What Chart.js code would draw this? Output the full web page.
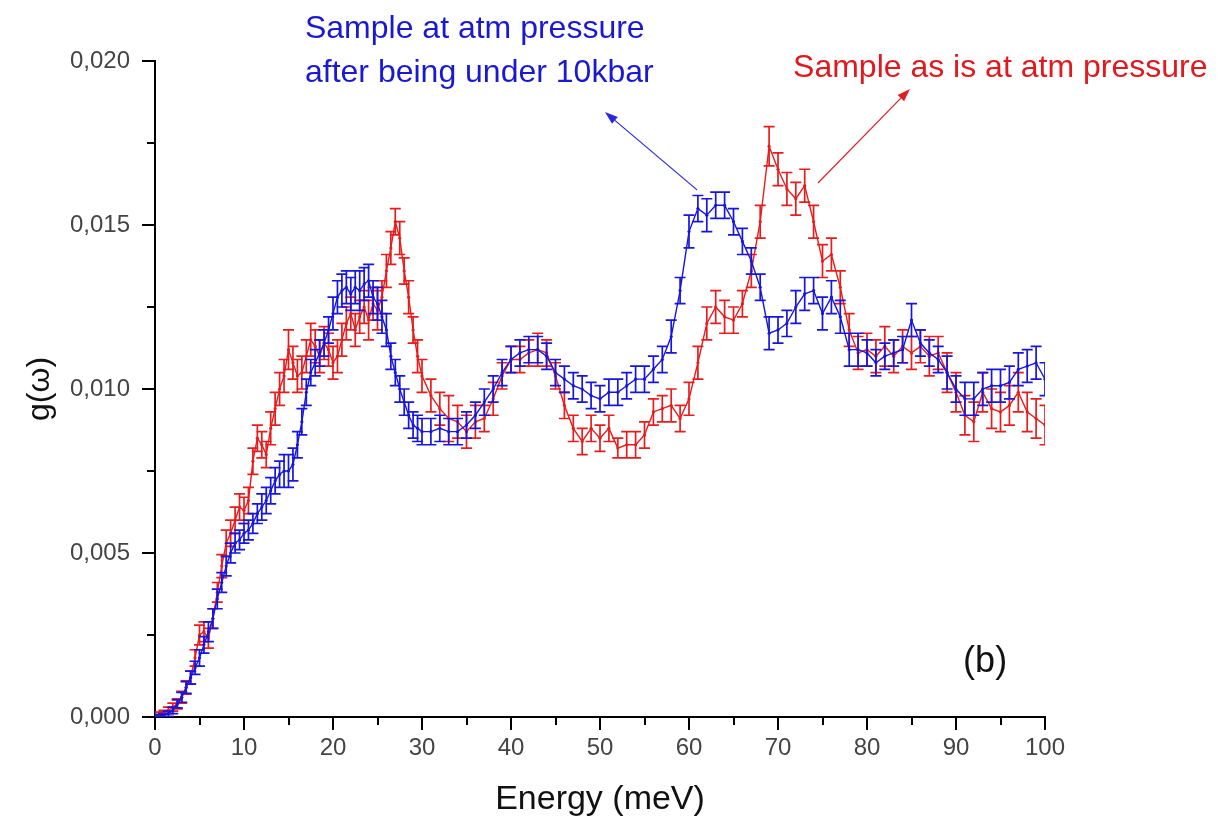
<!DOCTYPE html>
<html>
<head>
<meta charset="utf-8">
<script src="https://cdn.jsdelivr.net/npm/chart.js@4/dist/chart.umd.min.js"></script>
<style>
  html, body { margin: 0; padding: 0; background: #ffffff; }
  #wrap { width: 1223px; height: 817px; position: relative; }
</style>
</head>
<body>
<div id="wrap"><canvas id="c" width="1223" height="817"></canvas></div>
<script>
// ---------------- DATA ----------------
const energy = [
  0,0.5,1,1.5,2,2.5,3,3.5,4,4.5,
  5,5.5,6,6.5,7,7.5,8,8.5,9,9.5,
  10,10.5,11,11.5,12,12.5,13,13.5,14,14.5,
  15,15.5,16,16.5,17,17.5,18,18.5,19,19.5,
  20,20.5,21,21.5,22,22.5,23,23.5,24,24.5,
  25,25.5,26,26.5,27,27.5,28,28.5,29,29.5,
  30,
  31,32,33,34,35,36,37,38,39,40,
  41,42,43,44,45,46,47,48,49,50,
  51,52,53,54,55,56,57,58,59,60,
  61,62,63,64,65,66,67,68,69,70,
  71,72,73,74,75,76,77,78,79,80,
  81,82,83,84,85,86,87,88,89,90,
  91,92,93,94,95,96,97,98,99,100
];

// Red: "Sample as is at atm pressure"
const redG = [
  0.00005,0.00005,0.0001,0.0002,0.0003,0.0004,0.0006,0.0009,0.0012,0.0018,
  0.0025,0.0026,0.0024,0.0030,0.0038,0.0046,0.0053,0.0056,0.0060,0.0064,
  0.0063,0.0066,0.0078,0.0085,0.0083,0.0080,0.0088,0.0094,0.0100,0.0104,
  0.0112,0.0108,0.0104,0.0105,0.0110,0.0115,0.0113,0.0110,0.0114,0.0112,
  0.0108,0.0110,0.0115,0.0120,0.0123,0.0118,0.0122,0.0125,0.0121,0.0126,
  0.0124,0.0128,0.0136,0.0143,0.0151,0.0146,0.0136,0.0128,0.0118,0.0110,
  0.0104,
  0.0098,0.0094,0.0091,0.0090,0.0087,0.0090,0.0091,0.0097,0.0104,0.0109,
  0.0109,0.0111,0.0112,0.0111,0.0104,0.0095,0.0088,0.0084,0.0088,0.0085,
  0.0088,0.0082,0.0083,0.0083,0.0086,0.0093,0.0094,0.0095,0.0091,0.0097,
  0.0108,0.0120,0.0125,0.0122,0.0121,0.0126,0.0136,0.0151,0.0174,0.0167,
  0.0161,0.0158,0.0162,0.0151,0.0139,0.0141,0.0131,0.0118,0.0111,0.0112,
  0.0110,0.0113,0.0110,0.0113,0.0111,0.0113,0.0110,0.0111,0.0105,0.0099,
  0.0092,0.0090,0.0099,0.0094,0.0093,0.0095,0.0099,0.0093,0.0091,0.0089
];
const redErr = [
  0.0001,0.0001,0.0001,0.0001,0.00012,0.00015,0.00018,0.0002,0.0002,0.00025,
  0.0003,0.0003,0.0003,0.0003,0.0003,0.00035,0.0004,0.0004,0.0004,0.0004,
  0.0004,0.0004,0.0004,0.0004,0.0004,0.0004,0.0005,0.0005,0.0005,0.0005,
  0.0006,0.0005,0.0005,0.0005,0.0005,0.0005,0.0005,0.0005,0.0005,0.0005,
  0.0005,0.0005,0.0005,0.0005,0.0005,0.0005,0.0005,0.0005,0.0006,0.0005,
  0.0006,0.0005,0.0005,0.0005,0.0004,0.0005,0.0004,0.0005,0.0004,0.0005,
  0.0005,
  0.0005,0.0005,0.0007,0.0005,0.0005,0.0005,0.0004,0.0005,0.0004,0.0004,
  0.0004,0.0004,0.0005,0.0004,0.0004,0.0004,0.0004,0.0004,0.0004,0.0004,
  0.0004,0.0003,0.0004,0.0004,0.0004,0.0004,0.0004,0.0005,0.0004,0.0005,
  0.0005,0.0005,0.0005,0.0005,0.0004,0.0004,0.0005,0.0005,0.0006,0.0005,
  0.0005,0.0005,0.0005,0.0005,0.0005,0.0005,0.0005,0.0005,0.0005,0.0005,
  0.0005,0.0006,0.0005,0.0005,0.0005,0.0005,0.0006,0.0005,0.0006,0.0006,
  0.0006,0.0006,0.0006,0.0006,0.0006,0.0006,0.0006,0.0006,0.0006,0.0006
];

// Blue: "Sample at atm pressure after being under 10kbar"
const blueG = [
  0.00003,0.00003,0.00005,0.0001,0.0002,0.0004,0.0006,0.0009,0.0012,0.0015,
  0.0018,0.0022,0.0026,0.0030,0.0036,0.0041,0.0046,0.0050,0.0053,0.0054,
  0.0056,0.0057,0.0059,0.0062,0.0064,0.0066,0.0069,0.0072,0.0074,0.0075,
  0.0075,0.0077,0.0083,0.0090,0.0099,0.0105,0.0108,0.0111,0.0114,0.0118,
  0.0123,0.0128,0.0130,0.0131,0.0129,0.0131,0.0130,0.0132,0.0133,0.0128,
  0.0126,0.0122,0.0118,0.0110,0.0105,0.0100,0.0096,0.0092,0.0089,0.0088,
  0.0087,
  0.0087,0.0088,0.0087,0.0087,0.0089,0.0092,0.0096,0.0100,0.0105,0.0109,
  0.0111,0.0112,0.0112,0.0110,0.0105,0.0103,0.0101,0.0100,0.0098,0.0097,
  0.0099,0.0099,0.0101,0.0103,0.0103,0.0106,0.0109,0.0116,0.0130,0.0148,
  0.0155,0.0153,0.0156,0.0156,0.0151,0.0145,0.0139,0.0131,0.0117,0.0118,
  0.0120,0.0125,0.0129,0.0130,0.0123,0.0128,0.0122,0.0112,0.0112,0.0111,
  0.0108,0.0110,0.0111,0.0112,0.0121,0.0114,0.0111,0.0109,0.0105,0.0100,
  0.0097,0.0097,0.0100,0.0101,0.0101,0.0102,0.0106,0.0107,0.0108,0.0103
];
const blueErr = [
  0.00005,0.00005,0.00005,0.00008,0.0001,0.00012,0.00015,0.00018,0.0002,0.0002,
  0.00025,0.00025,0.0003,0.0003,0.0003,0.0003,0.0003,0.0003,0.0003,0.0003,
  0.0003,0.0003,0.0003,0.0003,0.0004,0.0004,0.0004,0.0004,0.0004,0.0005,
  0.0005,0.0005,0.0004,0.0004,0.0004,0.0004,0.0004,0.0004,0.0004,0.0004,
  0.0005,0.0005,0.0005,0.0005,0.0005,0.0005,0.0006,0.0005,0.0005,0.0005,
  0.0005,0.0005,0.0005,0.0004,0.0004,0.0004,0.0004,0.0004,0.0004,0.0004,
  0.0004,
  0.0004,0.0004,0.0004,0.0004,0.0004,0.0004,0.0004,0.0004,0.0004,0.0004,
  0.0004,0.0004,0.0004,0.0004,0.0004,0.0004,0.0004,0.0004,0.0004,0.0004,
  0.0004,0.0004,0.0004,0.0004,0.0004,0.0004,0.0004,0.0005,0.0004,0.0005,
  0.0004,0.0005,0.0004,0.0004,0.0004,0.0004,0.0004,0.0004,0.0005,0.0004,
  0.0004,0.0005,0.0005,0.0004,0.0005,0.0005,0.0005,0.0005,0.0005,0.0004,
  0.0004,0.0004,0.0004,0.0004,0.0005,0.0004,0.0004,0.0004,0.0005,0.0004,
  0.0005,0.0005,0.0005,0.0005,0.0005,0.0005,0.0005,0.0005,0.0005,0.0005
];

const xMinorTicks = [5,15,25,35,45,55,65,75,85,95];
const yMinorTicks = [0.0025,0.0075,0.0125,0.0175];

// ---------------- STYLE ----------------
const RED = 'rgb(232,28,28)';
const BLUE = 'rgb(22,22,222)';
const FONT = '"Liberation Sans", Arial, sans-serif';

const toPoints = (xs, ys) => xs.map((x, i) => ({ x: x, y: ys[i] }));

// Error bar plugin (uses the chart's scales)
const errorBars = {
  id: 'errorBars',
  afterDatasetDraw(chart, args) {
    const ds = chart.data.datasets[args.index];
    const errs = ds.errors;
    if (!errs) return;
    const xs = chart.scales.x, ys = chart.scales.y, ca = chart.chartArea;
    const ctx = chart.ctx;
    ctx.save();
    ctx.beginPath();
    ctx.rect(ca.left, ca.top - 20, ca.right - ca.left, ca.bottom - ca.top + 20);
    ctx.clip();
    ctx.strokeStyle = ds.borderColor;
    ctx.lineWidth = 1.7;
    ctx.beginPath();
    ds.data.forEach((p, i) => {
      const px = xs.getPixelForValue(p.x);
      const y1 = ys.getPixelForValue(p.y - errs[i]);
      const y2 = ys.getPixelForValue(p.y + errs[i]);
      ctx.moveTo(px, y1); ctx.lineTo(px, y2);
      ctx.moveTo(px - 5.5, y1); ctx.lineTo(px + 5.5, y1);
      ctx.moveTo(px - 5.5, y2); ctx.lineTo(px + 5.5, y2);
    });
    ctx.stroke();
    ctx.restore();
  }
};

// Annotations (text & arrows) in data coordinates
const notes = {
  blueText: { x: 16.85, y: 0.0207, y2: 0.01936, lines: ['Sample at atm pressure', 'after being under 10kbar'] },
  redText: { x: 71.69, y: 0.01951, text: 'Sample as is at atm pressure' },
  blueArrow: { x1: 60.9, y1: 0.01607, x2: 50.56, y2: 0.018445 },
  redArrow: { x1: 74.49, y1: 0.01628, x2: 84.83, y2: 0.01915 },
  panel: { x: 90.8, y: 0.00137, text: '(b)' }
};

function drawArrow(ctx, x1, y1, x2, y2, color) {
  ctx.save();
  ctx.strokeStyle = color;
  ctx.fillStyle = color;
  ctx.lineWidth = 1.2;
  const ang = Math.atan2(y2 - y1, x2 - x1);
  const hl = 13, hw = 4.5;
  const bx = x2 - hl * Math.cos(ang), by = y2 - hl * Math.sin(ang);
  ctx.beginPath();
  ctx.moveTo(x1, y1); ctx.lineTo(bx, by);
  ctx.stroke();
  ctx.beginPath();
  ctx.moveTo(x2, y2);
  ctx.lineTo(bx + hw * Math.sin(ang), by - hw * Math.cos(ang));
  ctx.lineTo(bx - hw * Math.sin(ang), by + hw * Math.cos(ang));
  ctx.closePath();
  ctx.fill();
  ctx.restore();
}

const decorations = {
  id: 'decorations',
  afterDraw(chart) {
    const ctx = chart.ctx;
    const xs = chart.scales.x, ys = chart.scales.y, ca = chart.chartArea;
    // minor ticks
    ctx.save();
    ctx.strokeStyle = '#000';
    ctx.lineWidth = 2;
    ctx.beginPath();
    xMinorTicks.forEach(v => {
      const px = Math.round(xs.getPixelForValue(v));
      ctx.moveTo(px, ca.bottom); ctx.lineTo(px, ca.bottom + 8);
    });
    yMinorTicks.forEach(v => {
      const py = Math.round(ys.getPixelForValue(v));
      ctx.moveTo(ca.left, py); ctx.lineTo(ca.left - 8, py);
    });
    ctx.stroke();
    ctx.restore();

    // texts
    ctx.save();
    ctx.textBaseline = 'alphabetic';
    ctx.textAlign = 'left';
    ctx.font = '32px ' + FONT;
    ctx.fillStyle = 'rgb(25,25,210)';
    const b = notes.blueText;
    ctx.fillText(b.lines[0], xs.getPixelForValue(b.x), ys.getPixelForValue(b.y));
    ctx.fillText(b.lines[1], xs.getPixelForValue(b.x), ys.getPixelForValue(b.y2));
    ctx.fillStyle = 'rgb(225,25,30)';
    const r = notes.redText;
    ctx.fillText(r.text, xs.getPixelForValue(r.x), ys.getPixelForValue(r.y));
    ctx.fillStyle = '#111';
    ctx.font = '36px ' + FONT;
    const p = notes.panel;
    ctx.fillText(p.text, xs.getPixelForValue(p.x), ys.getPixelForValue(p.y));
    ctx.restore();

    // arrows
    const ba = notes.blueArrow, ra = notes.redArrow;
    drawArrow(ctx, xs.getPixelForValue(ba.x1), ys.getPixelForValue(ba.y1),
                   xs.getPixelForValue(ba.x2), ys.getPixelForValue(ba.y2), 'rgb(40,40,220)');
    drawArrow(ctx, xs.getPixelForValue(ra.x1), ys.getPixelForValue(ra.y1),
                   xs.getPixelForValue(ra.x2), ys.getPixelForValue(ra.y2), 'rgb(225,30,30)');
  }
};

new Chart(document.getElementById('c'), {
  type: 'line',
  data: {
    datasets: [
      {
        label: 'Sample as is at atm pressure',
        data: toPoints(energy, redG),
        errors: redErr,
        borderColor: RED,
        backgroundColor: RED,
        borderWidth: 1.4,
        pointRadius: 1.6,
        pointBorderWidth: 0,
        tension: 0,
        fill: false,
        order: 2
      },
      {
        label: 'Sample at atm pressure after being under 10kbar',
        data: toPoints(energy, blueG),
        errors: blueErr,
        borderColor: BLUE,
        backgroundColor: BLUE,
        borderWidth: 1.4,
        pointRadius: 1.6,
        pointBorderWidth: 0,
        tension: 0,
        fill: false,
        order: 1
      }
    ]
  },
  options: {
    responsive: false,
    animation: false,
    devicePixelRatio: 1,
    layout: { padding: { top: 61, right: 178, left: 0, bottom: 0 } },
    plugins: {
      legend: { display: false },
      tooltip: { enabled: false }
    },
    scales: {
      x: {
        type: 'linear',
        min: 0, max: 100,
        afterFit: (s) => { s.height = 100; },
        ticks: {
          stepSize: 10,
          color: '#444',
          font: { family: FONT, size: 24 },
          padding: 4,
          maxRotation: 0
        },
        grid: {
          drawOnChartArea: false,
          drawTicks: true,
          tickLength: 13,
          color: '#000',
          lineWidth: 2
        },
        border: { display: true, color: '#000', width: 2 },
        title: {
          display: true,
          text: 'Energy (meV)',
          color: '#111',
          font: { family: FONT, size: 34, lineHeight: 1.0 },
          padding: { top: 0, bottom: 0 }
        }
      },
      y: {
        type: 'linear',
        min: 0, max: 0.02,
        afterFit: (s) => { s.width = 155; },
        ticks: {
          stepSize: 0.005,
          color: '#444',
          font: { family: FONT, size: 24 },
          padding: 12,
          callback: (v) => Number(v).toFixed(3).replace('.', ',')
        },
        grid: {
          drawOnChartArea: false,
          drawTicks: true,
          tickLength: 13,
          color: '#000',
          lineWidth: 2
        },
        border: { display: true, color: '#000', width: 2 },
        title: {
          display: true,
          text: 'g(\u03c9)',
          color: '#111',
          font: { family: FONT, size: 32, lineHeight: 1.0 },
          padding: { top: 24, bottom: 0 }
        }
      }
    }
  },
  plugins: [errorBars, decorations]
});
</script>
</body>
</html>
